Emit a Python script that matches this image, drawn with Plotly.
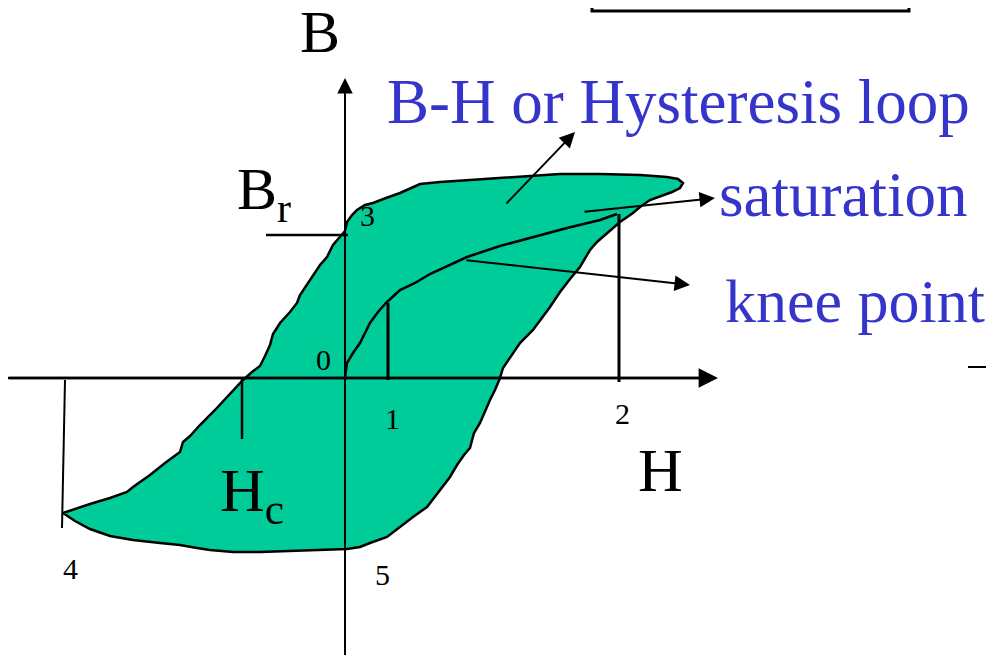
import plotly.graph_objects as go

# ---------------- data (H, B in arbitrary drawing units, origin at 0,0) ----------------
loop_H = [0, 2, 7, 12, 20, 28, 41, 55, 75, 95, 125, 155, 185, 215, 255, 295, 322, 333, 338, 335,
          327, 315, 305, 295, 288, 275, 262, 252, 245, 238, 235, 225, 215, 205, 195, 188, 175, 165,
          158, 155, 150, 145, 140, 135, 129, 127, 125, 119, 112, 105, 95, 82, 68, 55, 42, 25, 15, 2,
          -25, -55, -85, -112, -135, -148, -165, -185, -212, -235, -255, -270, -282,
          -255, -235, -218, -212, -195, -180, -165, -162, -155, -145, -130, -112, -102, -93, -85,
          -80, -75, -72, -65, -55, -48, -45, -35, -25, -18, -12, -6, 0]
loop_B = [147, 156, 163, 168, 173, 175, 180, 185, 194, 196, 198, 200, 202, 204, 204, 203, 201, 199, 195, 190,
          186, 182, 178, 171, 165, 156, 145, 136, 128, 116, 111, 99, 86, 71, 58, 48, 35, 21,
          10, 0, -12, -22, -34, -45, -55, -62, -70, -77, -87, -99, -112, -129, -139, -149, -159, -165, -169, -171,
          -172, -173, -174, -174, -172, -170, -167, -165, -162, -158, -151, -143, -135,
          -126, -120, -114, -109, -97, -85, -74, -64, -58, -47, -32, -12, -2, 6, 12,
          22, 33, 44, 55, 66, 75, 83, 98, 113, 121, 133, 140, 147]

init_H = [0, 2, 8, 15, 20, 25, 33, 42, 55, 70, 85, 100, 122, 155, 188, 222, 255, 272]
init_B = [0, 15, 25, 35, 45, 55, 66, 76, 88, 95, 104, 111, 121, 132, 141, 150, 158, 164]

knee_H, knee_B = 43, 75
sat_H, sat_B = 273, 164
Hc_H = -103
Br_B = 143
neg_sat_H, neg_sat_B = -282, -135

point_labels = ["0", "1", "2", "3", "4", "5"]
point_H = [-22, 47, 277, 22, -275, 37]
point_B = [19, -40, -35, 163, -190, -196]

H_range = [-337, 649]
B_range = [-283, 370]

BLUE = "#3535cc"
FILL = "#00cc99"
SERIF = "Liberation Serif, Times New Roman, serif"

fig = go.Figure()

# loop
fig.add_trace(go.Scatter(x=loop_H, y=loop_B, mode="lines", fill="toself", fillcolor=FILL,
                         line=dict(color="black", width=2.5), hoverinfo="skip"))
# initial magnetisation curve
fig.add_trace(go.Scatter(x=init_H, y=init_B, mode="lines",
                         line=dict(color="black", width=2.5), hoverinfo="skip"))

def seg(x0, y0, x1, y1, w=2.5):
    fig.add_trace(go.Scatter(x=[x0, x1], y=[y0, y1], mode="lines",
                             line=dict(color="black", width=w), hoverinfo="skip"))

# drop lines
seg(knee_H, knee_B, knee_H, -2, 3)
seg(sat_H + 1, sat_B, sat_H + 1, -4, 3)
seg(Hc_H, 1, Hc_H, -61, 2.5)
seg(neg_sat_H + 2, -2, neg_sat_H - 1, -150, 2)
seg(-79, Br_B, 3, Br_B, 2.5)
# axes lines (arrow heads added as annotations)
seg(-337, 0, 365, 0, 2.5)
seg(0, -277, 0, 292, 2)
# small dash at right
seg(623, 11, 649, 11, 2)

def arrow(tx, ty, hx, hy, w=2):
    fig.add_annotation(x=hx, y=hy, ax=tx, ay=ty, xref="x", yref="y", axref="x", ayref="y",
                       text="", showarrow=True, arrowhead=2, arrowsize=1.55, arrowwidth=w,
                       arrowcolor="black", standoff=0, startstandoff=0)

arrow(-337, 0, 373, 0, 2.5)
arrow(0, -277, 0, 300, 2)
arrow(160, 173, 230, 246)
arrow(238, 166, 370, 180)
arrow(120, 118, 345, 93)

def label(x, y, text, size, color="black", xanchor="center"):
    fig.add_annotation(x=x, y=y, xref="x", yref="y", text=text, showarrow=False,
                       xanchor=xanchor, yanchor="middle",
                       font=dict(family=SERIF, size=size, color=color))

label(-25, 346, "B", 60)
label(315, -92, "H", 62)
label(-110, 185, "B<sub>r</sub>", 60, xanchor="left")
label(-127, -116, "H<sub>c</sub>", 62, xanchor="left")
label(40, 276, "B-H or Hysteresis loop", 63, BLUE, xanchor="left")
label(372, 183, "saturation", 63, BLUE, xanchor="left")
label(378, 77, "knee point", 62, BLUE, xanchor="left")

for t, hx, by in zip(point_labels, point_H, point_B):
    label(hx, by, t, 30)

# box partially cut at top
fig.add_shape(type="rect", x0=247, x1=564, y0=367, y1=400, xref="x", yref="y",
              line=dict(color="black", width=3), fillcolor="rgba(0,0,0,0)")

fig.update_layout(width=986, height=653, margin=dict(l=0, r=0, t=0, b=0),
                  paper_bgcolor="white", plot_bgcolor="white", showlegend=False,
                  xaxis=dict(range=H_range, visible=False, fixedrange=True),
                  yaxis=dict(range=B_range, visible=False, fixedrange=True))

fig.write_html("out.html")
